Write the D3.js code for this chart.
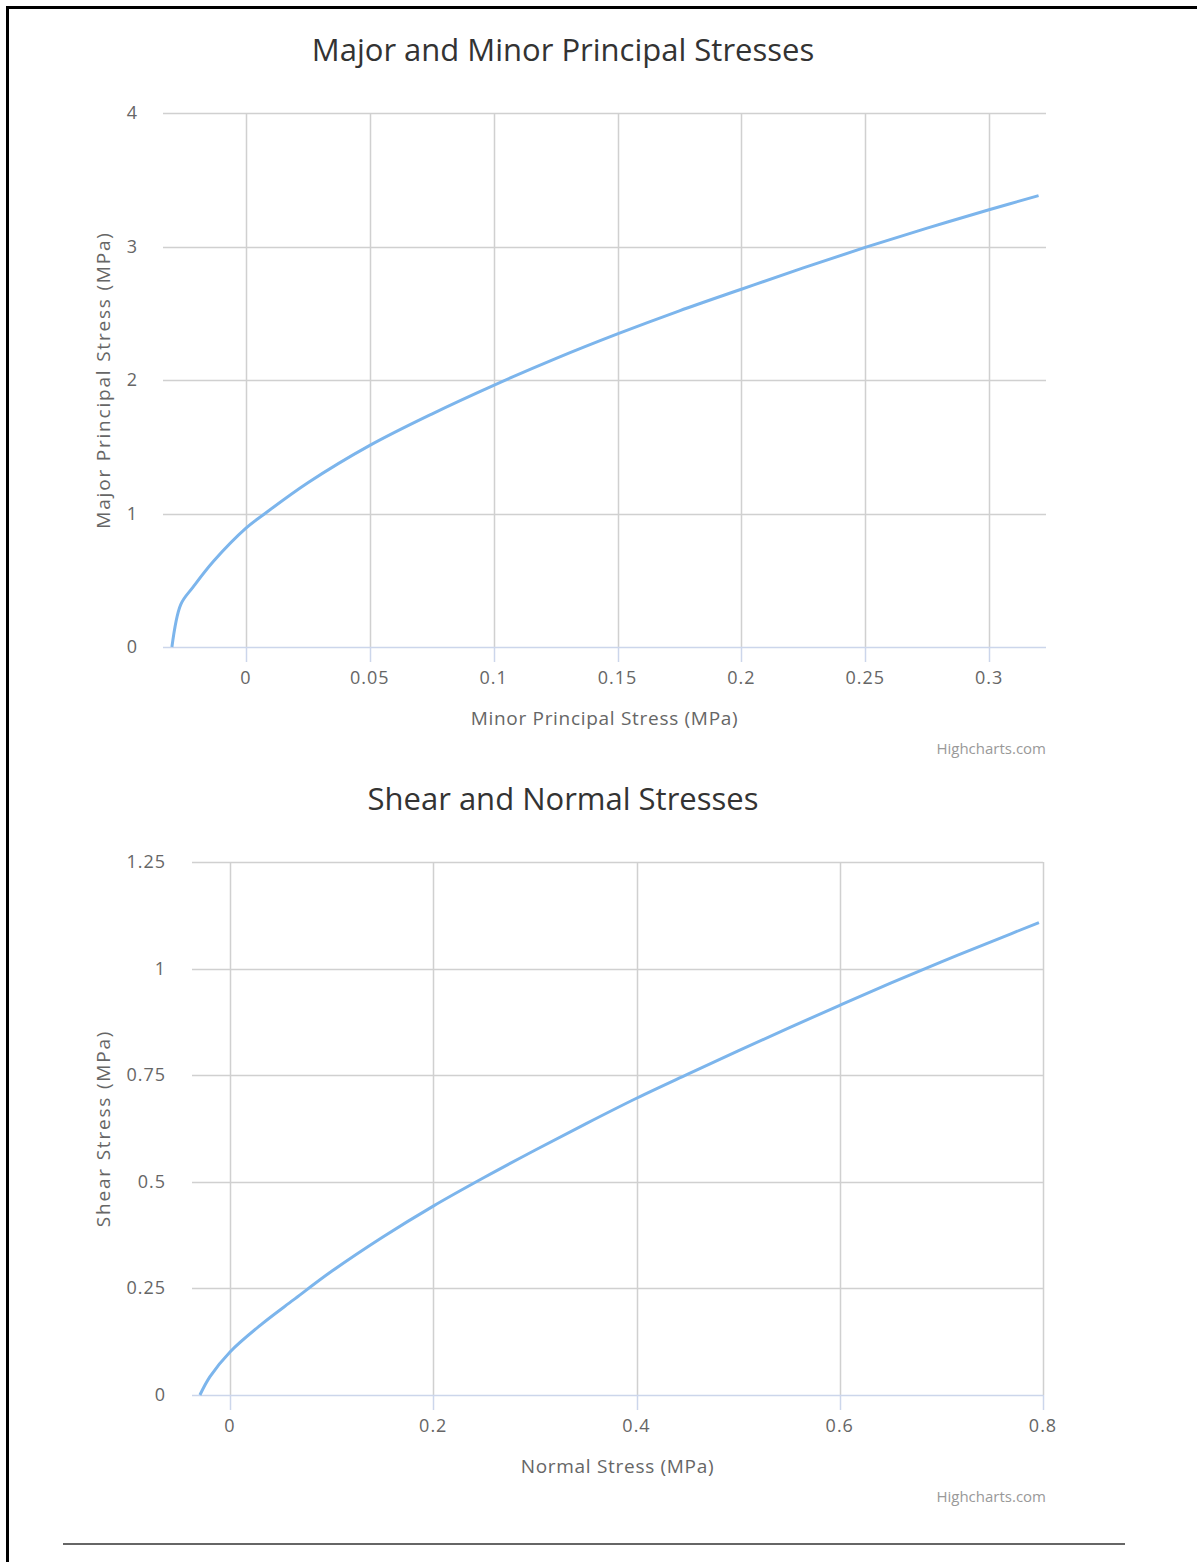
<!DOCTYPE html>
<html>
<head>
<meta charset="utf-8">
<script src="https://cdn.jsdelivr.net/npm/d3@7"></script>
<style>
  html, body { margin: 0; padding: 0; background: #fff; }
  svg text { font-family: "Open Sans", "DejaVu Sans", sans-serif; }
</style>
</head>
<body>
<svg id="page" width="1197" height="1562"></svg>
<script>
// Major / minor principal stresses
const minorStress = [-0.0299, -0.0263, -0.0213, -0.0132, 0, 0.0077, 0.025, 0.05, 0.075, 0.1,
  0.125, 0.15, 0.175, 0.2, 0.225, 0.25, 0.275, 0.3, 0.32]
const majorStress = [0, 0.32, 0.45, 0.64, 0.89, 1.0, 1.23, 1.51, 1.745, 1.96,
  2.16, 2.345, 2.518, 2.68, 2.84, 2.993, 3.138, 3.275, 3.381]

// Shear / normal stresses
const normalStress = [-0.0296, -0.0197, 0, 0.03, 0.0624, 0.1, 0.15, 0.2, 0.25, 0.3,
  0.35, 0.4, 0.45, 0.5, 0.55, 0.6, 0.65, 0.7, 0.75, 0.796]
const shearStress = [0, 0.043, 0.101, 0.164, 0.223, 0.29, 0.37, 0.443, 0.51, 0.574,
  0.636, 0.696, 0.752, 0.807, 0.861, 0.914, 0.966, 1.016, 1.064, 1.108]

const topXTicks = [0, 0.05, 0.1, 0.15, 0.2, 0.25, 0.3]
const topYTicks = [0, 1, 2, 3, 4]
const bottomXTicks = [0, 0.2, 0.4, 0.6, 0.8]
const bottomYTicks = [0, 0.25, 0.5, 0.75, 1, 1.25]

const svg = d3.select('#page')

/**
 * Draws one highcharts-like line chart.
 *
 * @param {object} cfg Where to draw and what to draw
 */
function drawChart (cfg) {
  const g = svg.append('g')

  const xScale = d3.scaleLinear().domain(cfg.xDomain).range([cfg.left, cfg.right])
  const yScale = d3.scaleLinear().domain(cfg.yDomain).range([cfg.bottom, cfg.top])

  // Title
  g.append('text')
    .attr('x', 563).attr('y', cfg.titleY)
    .attr('text-anchor', 'middle')
    .attr('font-size', 31).attr('fill', '#333')
    .text(cfg.title)

  // Horizontal grid lines (y ticks)
  g.append('g').selectAll('line')
    .data(cfg.yTicks.filter(d => d !== cfg.yDomain[0]))
    .enter().append('line')
    .attr('x1', cfg.left).attr('x2', cfg.right)
    .attr('y1', d => Math.round(yScale(d)) + 0.5)
    .attr('y2', d => Math.round(yScale(d)) + 0.5)
    .attr('stroke', '#d0d0d0').attr('stroke-width', 1.5)

  // Vertical grid lines + ticks below the axis
  g.append('g').selectAll('line')
    .data(cfg.xTicks)
    .enter().append('line')
    .attr('x1', d => Math.round(xScale(d)) + 0.5)
    .attr('x2', d => Math.round(xScale(d)) + 0.5)
    .attr('y1', cfg.top).attr('y2', cfg.bottom)
    .attr('stroke', '#d0d0d0').attr('stroke-width', 1.5)

  g.append('g').selectAll('line')
    .data(cfg.xTicks)
    .enter().append('line')
    .attr('x1', d => Math.round(xScale(d)) + 0.5)
    .attr('x2', d => Math.round(xScale(d)) + 0.5)
    .attr('y1', cfg.bottom).attr('y2', cfg.bottom + 15)
    .attr('stroke', '#ccd6eb').attr('stroke-width', 1.5)

  // x axis line
  g.append('line')
    .attr('x1', cfg.left).attr('x2', cfg.right)
    .attr('y1', cfg.bottom + 0.5).attr('y2', cfg.bottom + 0.5)
    .attr('stroke', '#ccd6eb').attr('stroke-width', 1.5)

  // Tick labels
  g.append('g').selectAll('text')
    .data(cfg.yTicks)
    .enter().append('text')
    .attr('x', cfg.yLabelX)
    .attr('y', d => yScale(d) + 6)
    .attr('text-anchor', 'end')
    .attr('font-size', 18).attr('fill', '#666')
    .attr('letter-spacing', 1)
    .text(d => d)

  g.append('g').selectAll('text')
    .data(cfg.xTicks)
    .enter().append('text')
    .attr('x', d => xScale(d))
    .attr('y', cfg.bottom + 37)
    .attr('text-anchor', 'middle')
    .attr('font-size', 18).attr('fill', '#666')
    .attr('letter-spacing', 1)
    .text(d => d)

  // Axis titles
  g.append('text')
    .attr('x', (cfg.left + cfg.right) / 2)
    .attr('y', cfg.bottom + 78)
    .attr('text-anchor', 'middle')
    .attr('font-size', 19).attr('fill', '#666')
    .attr('letter-spacing', 0.7)
    .text(cfg.xTitle)

  g.append('text')
    .attr('transform', 'translate(110,' + (cfg.top + cfg.bottom) / 2 + ') rotate(-90)')
    .attr('text-anchor', 'middle')
    .attr('font-size', 19).attr('fill', '#666')
    .attr('letter-spacing', 1.8)
    .text(cfg.yTitle)

  // The series
  const line = d3.line()
    .x(d => xScale(d[0]))
    .y(d => yScale(d[1]))
    .curve(d3.curveCatmullRom.alpha(0.5))

  g.append('path')
    .datum(d3.zip(cfg.xs, cfg.ys))
    .attr('d', line)
    .attr('fill', 'none')
    .attr('stroke', '#7cb5ec')
    .attr('stroke-width', 3)
    .attr('stroke-linejoin', 'round')

  // Credits
  g.append('text')
    .attr('x', 1046).attr('y', cfg.bottom + 107)
    .attr('text-anchor', 'end')
    .attr('font-size', 15).attr('fill', '#999')
    .text('Highcharts.com')
}

drawChart({
  title: 'Major and Minor Principal Stresses',
  titleY: 61,
  xTitle: 'Minor Principal Stress (MPa)',
  yTitle: 'Major Principal Stress (MPa)',
  left: 163, right: 1046, top: 113, bottom: 647,
  yLabelX: 138,
  xDomain: [-0.0335, 0.323],
  yDomain: [0, 4],
  xTicks: topXTicks,
  yTicks: topYTicks,
  xs: minorStress,
  ys: majorStress
})

drawChart({
  title: 'Shear and Normal Stresses',
  titleY: 810,
  xTitle: 'Normal Stress (MPa)',
  yTitle: 'Shear Stress (MPa)',
  left: 192, right: 1043, top: 862, bottom: 1395,
  yLabelX: 166,
  xDomain: [-0.0374, 0.8],
  yDomain: [0, 1.25],
  xTicks: bottomXTicks,
  yTicks: bottomYTicks,
  xs: normalStress,
  ys: shearStress
})

// Page frame: thick black top and left edge, thin rule at the bottom
svg.append('line')
  .attr('x1', 6).attr('x2', 1197).attr('y1', 7.5).attr('y2', 7.5)
  .attr('stroke', '#000').attr('stroke-width', 3)
svg.append('line')
  .attr('x1', 7.5).attr('x2', 7.5).attr('y1', 6).attr('y2', 1562)
  .attr('stroke', '#000').attr('stroke-width', 3)
svg.append('line')
  .attr('x1', 63).attr('x2', 1125).attr('y1', 1544).attr('y2', 1544)
  .attr('stroke', '#333').attr('stroke-width', 1.5)
</script>
</body>
</html>
